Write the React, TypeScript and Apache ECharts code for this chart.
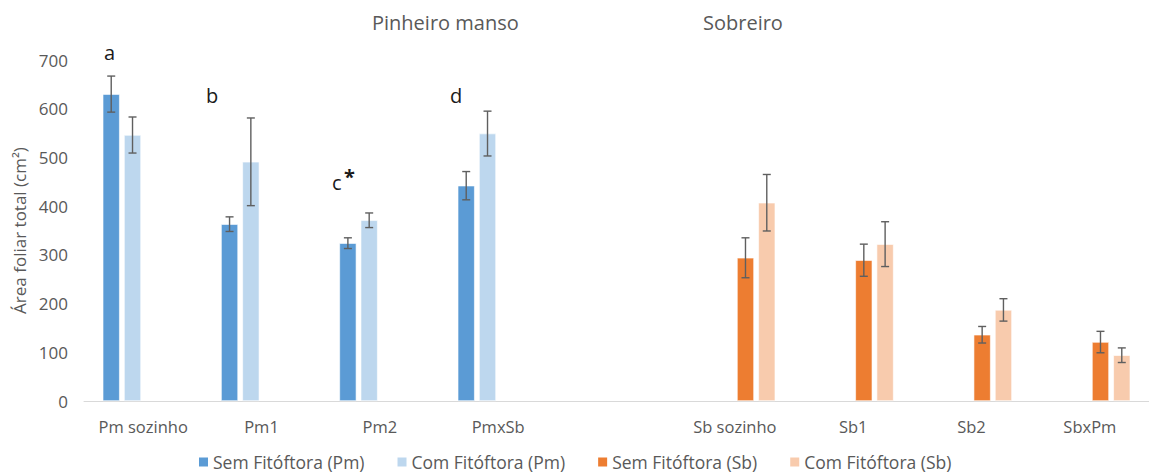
import React, { useEffect, useRef } from "react";
import * as echarts from "echarts";

const categories = ["Pm sozinho", "Pm1", "Pm2", "PmxSb", "", "Sb sozinho", "Sb1", "Sb2", "SbxPm"];
const seriesNames = ["Sem Fitóftora (Pm)", "Com Fitóftora (Pm)", "Sem Fitóftora (Sb)", "Com Fitóftora (Sb)"];
const semPm = [630, 363, 324, 442, null, null, null, null, null];
const comPm = [546, 491, 371, 549, null, null, null, null, null];
const semSb = [null, null, null, null, null, 294, 289, 136, 121];
const comSb = [null, null, null, null, null, 407, 322, 187, 94];
const errSemPm = [37, 15, 11, 29, null, null, null, null, null];
const errComPm = [37, 90, 15, 46, null, null, null, null, null];
const errSemSb = [null, null, null, null, null, 41, 33, 17, 22];
const errComSb = [null, null, null, null, null, 58, 46, 23, 15];
const yTicks = { min: 0, max: 700, interval: 100 };
const letters = [
  { text: "a", x: 104, y: 42 },
  { text: "b", x: 206, y: 85 },
  { text: "c", x: 332, y: 172 },
  { text: "d", x: 450, y: 85 },
];

const colors = ["#5B9BD5", "#BDD7EE", "#ED7D31", "#F8CBAD"];
const BAR_W = 17;
const BAR_GAP = 4.3;

export default function App() {
  const ref = useRef<HTMLDivElement>(null);
  useEffect(() => {
    const chart = echarts.init(ref.current!, undefined, { renderer: "svg" });
    const values = [semPm, comPm, semSb, comSb];
    const errs = [errSemPm, errComPm, errSemSb, errComSb];
    const font = "'Open Sans', sans-serif";
    const barSeries = values.map((v, i) => ({
      name: seriesNames[i],
      type: "bar",
      data: v,
      barWidth: BAR_W,
      barGap: (BAR_GAP / BAR_W) * 100 + "%",
      itemStyle: { color: colors[i], borderColor: "#ffffff", borderWidth: 0.6 },
      z: 2,
    }));
    const errSeries = values.map((v, i) => ({
      name: "err" + i,
      type: "custom",
      z: 5,
      silent: true,
      data: v.map((val, k) => (val == null ? null : [k, val, errs[i][k]])).filter((d) => d != null),
      renderItem: (params: any, api: any) => {
        const k = api.value(0);
        const val = api.value(1);
        const e = api.value(2);
        const off = (i - 1.5) * (BAR_W + BAR_GAP);
        const top = api.coord([k, val + e]);
        const bot = api.coord([k, val - e]);
        const x = top[0] + off;
        const hw = 4;
        const style = { stroke: "#5f5f5f", lineWidth: 1.4, fill: "none" };
        return {
          type: "group",
          children: [
            { type: "line", shape: { x1: x, y1: top[1], x2: x, y2: bot[1] }, style },
            { type: "line", shape: { x1: x - hw, y1: top[1], x2: x + hw, y2: top[1] }, style },
            { type: "line", shape: { x1: x - hw, y1: bot[1], x2: x + hw, y2: bot[1] }, style },
          ],
        };
      },
    }));
    chart.setOption({
      animation: false,
      textStyle: { fontFamily: font },
      grid: { left: 84, top: 60, width: 1071, height: 341 },
      legend: {
        data: seriesNames,
        left: 197,
        top: 453,
        padding: 0,
        itemWidth: 11,
        itemHeight: 11,
        itemGap: 31,
        icon: "rect",
        textStyle: { color: "#595959", fontSize: 17.5, lineHeight: 18, fontFamily: font, padding: [0, 0, 0, -1] },
      },
      xAxis: {
        type: "category",
        data: categories,
        axisLine: { lineStyle: { color: "#d9d9d9", width: 1 } },
        axisTick: { show: false },
        axisLabel: { color: "#595959", fontSize: 16.5, margin: 17, interval: 0 },
      },
      yAxis: {
        type: "value",
        min: yTicks.min,
        max: yTicks.max,
        interval: yTicks.interval,
        splitLine: { show: false },
        axisLine: { show: false },
        axisTick: { show: false },
        axisLabel: { color: "#595959", fontSize: 17, margin: 16 },
        name: "Área foliar total (cm²)",
        nameLocation: "middle",
        nameGap: 56,
        nameTextStyle: { color: "#595959", fontSize: 17 },
      },
      graphic: [
        { type: "text", left: 372, top: 12, style: { text: "Pinheiro manso", fill: "#595959", font: "20px " + font } },
        { type: "text", left: 703, top: 12, style: { text: "Sobreiro", fill: "#595959", font: "20px " + font } },
        ...letters.map((l) => ({
          type: "text",
          left: l.x,
          top: l.y,
          style: { text: l.text, fill: "#1a1a1a", font: "20px " + font },
        })),
        { type: "text", left: 344, top: 166, style: { text: "*", fill: "#1a1a1a", font: "bold 20px " + font } },
      ],
      series: [...barSeries, ...errSeries],
    });
    return () => chart.dispose();
  }, []);
  return (
    <div
      ref={ref}
      style={{ position: "absolute", left: 0, top: 0, width: 1149, height: 474, background: "#fff" }}
    />
  );
}
